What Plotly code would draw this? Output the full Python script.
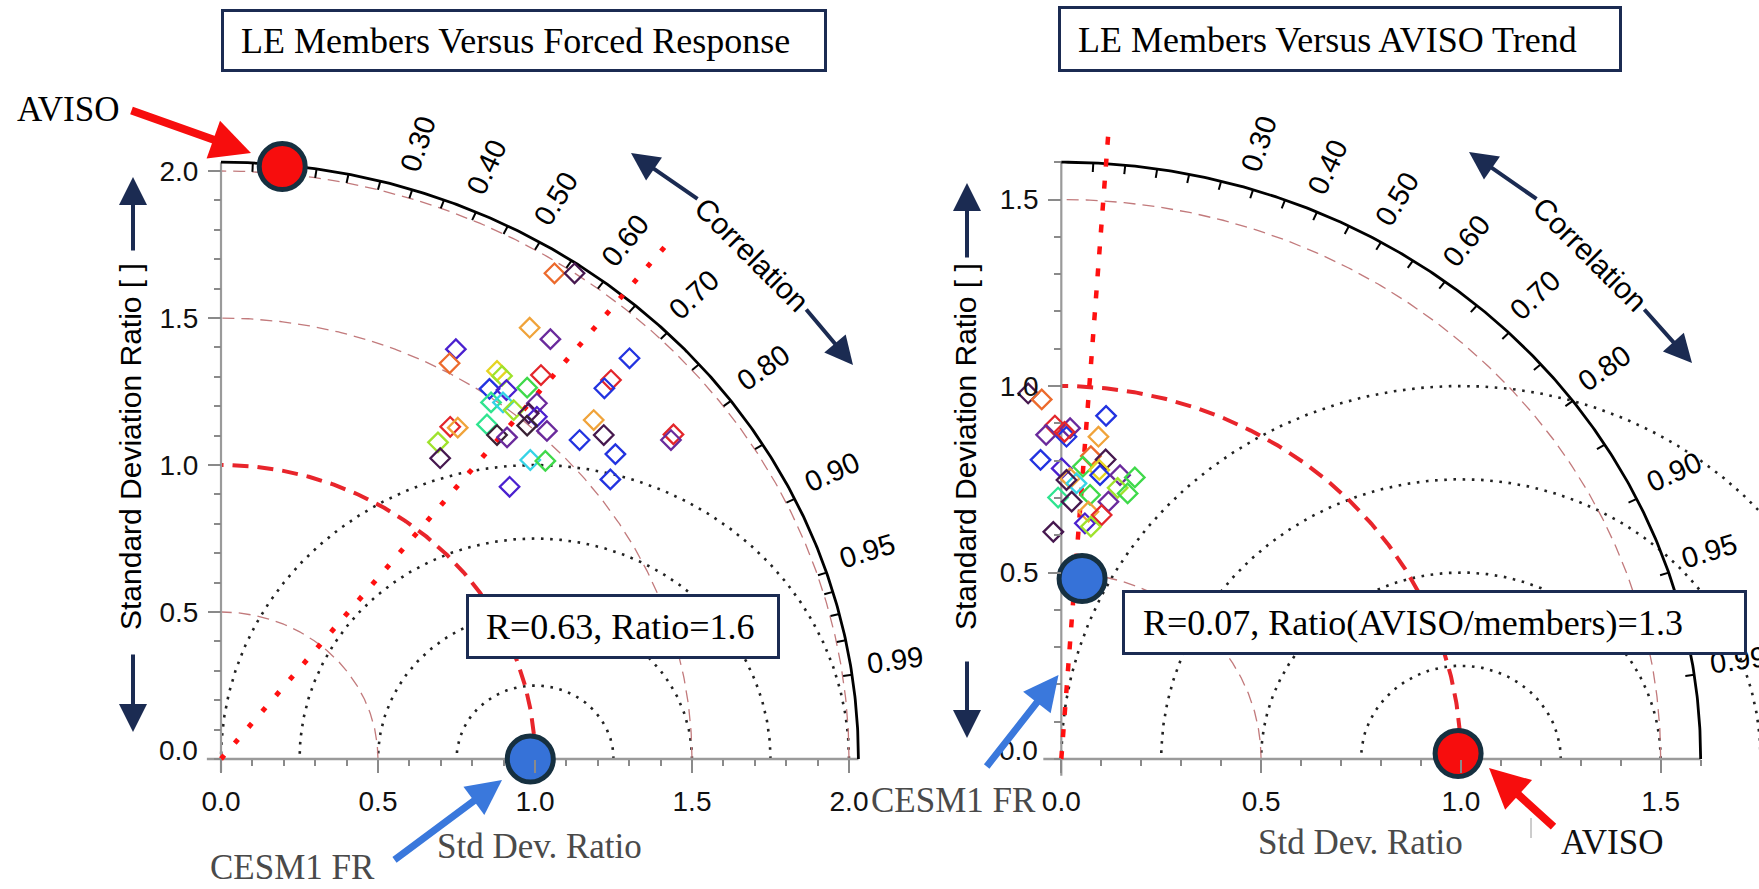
import numpy as np
import plotly.graph_objects as go

W, H = 1759, 889

# ---------------- data ----------------
# Left panel: LE members versus forced response (x = SD*R, y = SD*sqrt(1-R^2))
left_x = [1.062, 1.126, 0.983, 1.049, 0.748, 0.728, 1.301, 0.879, 0.895, 1.019,
          1.242, 1.221, 0.855, 0.909, 0.975, 0.860, 0.898, 0.932, 1.006, 0.980,
          1.006, 0.975, 1.038, 1.187, 0.730, 0.754, 0.847, 0.879, 0.911, 1.219,
          1.142, 1.441, 1.433, 0.691, 0.698, 1.256, 0.985, 1.033, 1.240, 0.919]
left_y = [1.652, 1.652, 1.467, 1.428, 1.394, 1.346, 1.363, 1.320, 1.303, 1.306,
          1.289, 1.261, 1.259, 1.255, 1.263, 1.213, 1.213, 1.187, 1.210, 1.176,
          1.164, 1.134, 1.116, 1.153, 1.130, 1.127, 1.138, 1.102, 1.094, 1.102,
          1.085, 1.104, 1.085, 1.077, 1.023, 1.037, 1.017, 1.014, 0.951, 0.926]
left_c = ["orangered", "darkpurple", "orange", "purple", "indigo", "orangered", "blue", "yellow", "yellowgreen", "red",
          "red", "blue", "blue", "indigo", "green", "teal", "cyan", "yellowgreen", "purple", "darkpurple",
          "indigo", "dark", "purple", "orange", "red", "orange", "teal", "dark", "purple", "darkpurple",
          "blue", "red", "purple", "yellowgreen", "darkpurple", "blue", "cyan", "green", "blue", "indigo"]

# Right panel: LE members versus AVISO trend
right_x = [-0.083, -0.049, 0.112, -0.016, 0.022, -0.038, 0.013, 0.008, 0.093, -0.052,
           0.074, 0.111, 0.054, 0.001, 0.095, 0.097, 0.022, 0.038, 0.013, 0.147,
           0.184, 0.141, 0.166, 0.072, -0.008, 0.026, 0.118, 0.068, 0.101, 0.059,
           0.074, -0.020]
right_y = [0.980, 0.964, 0.920, 0.894, 0.887, 0.869, 0.864, 0.877, 0.864, 0.802,
           0.812, 0.803, 0.784, 0.779, 0.775, 0.761, 0.753, 0.739, 0.748, 0.761,
           0.755, 0.727, 0.712, 0.708, 0.701, 0.690, 0.690, 0.663, 0.654, 0.632,
           0.623, 0.609]
right_c = ["darkpurple", "orangered", "blue", "red", "purple", "purple", "blue", "red", "orange", "blue",
           "orangered", "darkpurple", "green", "indigo", "yellow", "blue", "orange", "cyan", "darkpurple", "purple",
           "green", "yellowgreen", "green", "green", "teal", "darkpurple", "purple", "orange", "red", "indigo",
           "yellowgreen", "darkpurple"]

member_palette = {
    "red": "#e3262b", "orangered": "#ec6a2c", "orange": "#f0a33a", "yellow": "#e5d523",
    "yellowgreen": "#9fe22c", "green": "#3fd94a", "teal": "#2fe48f", "cyan": "#35d3e6",
    "blue": "#2233e0", "indigo": "#4a20cf", "purple": "#6a2a9c", "darkpurple": "#46184f",
    "dark": "#3a2235",
}

# reference points (x, y in std-ratio units)
left_aviso_x, left_aviso_y = [0.195], [2.015]
left_fr_x, left_fr_y = [0.985], [0.0]
right_fr_x, right_fr_y = [0.052], [0.484]
right_aviso_x, right_aviso_y = [0.993], [0.015]

left_R, left_ratio = 0.63, 1.6
right_R, right_ratio = 0.07, 1.3
left_corr_len, right_corr_len = 2.28, 1.68

left_rmax, right_rmax = 2.03, 1.6
left_std_circles = [0.5, 1.5, 2.0]
right_std_circles = [0.5, 1.5]
ref_std = 1.0
rms_circles = [0.25, 0.5, 0.75, 1.0]

corr_ticks = [0.05, 0.10, 0.15, 0.20, 0.25, 0.30, 0.35, 0.40, 0.45, 0.50, 0.55,
              0.60, 0.65, 0.70, 0.75, 0.80, 0.85, 0.90, 0.95, 0.96, 0.97, 0.98, 0.99]
corr_labels = [0.30, 0.40, 0.50, 0.60, 0.70, 0.80, 0.90, 0.95, 0.99]

left_major = [0.0, 0.5, 1.0, 1.5, 2.0]
right_major = [0.0, 0.5, 1.0, 1.5]
left_minor = [round(0.1 * k, 1) for k in range(0, 21)]
right_minor = [round(0.1 * k, 1) for k in range(0, 17)]

# ---------------- styling ----------------
NAVY = "#1b2b52"
SANS = "Liberation Sans, Arial, sans-serif"
SERIF = "Liberation Serif, Times New Roman, serif"
GRAYTXT = "#4a4a4a"

PANELS = {
    "left": dict(ox=221.0, oy=759.0, sx=314.0, sy=294.0, dom=(0.0, 0.56), xa="x", ya="y", n="",
                 rmax=left_rmax, std=left_std_circles, major=left_major, minor=left_minor,
                 R=left_R, L=left_corr_len, mx=left_x, my=left_y, mc=left_c,
                 corr_dash=("5px,16px", 5)),
    "right": dict(ox=1061.3, oy=759.0, sx=399.6, sy=373.0, dom=(0.5, 1.0), xa="x2", ya="y2", n="2",
                  rmax=right_rmax, std=right_std_circles, major=right_major, minor=right_minor,
                  R=right_R, L=right_corr_len, mx=right_x, my=right_y, mc=right_c,
                  corr_dash=("8px,14px", 4.5)),
}

fig = go.Figure()
annotations = []
layout_axes = {}


def arc(r, cx=0.0, t0=0.0, t1=np.pi / 2, n=300):
    t = np.linspace(t0, t1, n)
    return cx + r * np.cos(t), r * np.sin(t)


for key, p in PANELS.items():
    xa, ya = p["xa"], p["ya"]
    rmax = p["rmax"]
    sx, sy = p["sx"], p["sy"]

    def line(x, y, color, width, dash="solid"):
        fig.add_trace(go.Scatter(x=list(x), y=list(y), mode="lines", xaxis=xa, yaxis=ya,
                                 line=dict(color=color, width=width, dash=dash),
                                 hoverinfo="skip", showlegend=False))

    # RMS-difference arcs (black dotted) centred on the reference
    for r in rms_circles:
        x, y = arc(r, cx=ref_std, t0=0, t1=np.pi)
        line(x, y, "#222222", 2.6, "2.6px,6.6px")
    # std-ratio circles (thin brown dashed)
    for r in p["std"]:
        x, y = arc(r)
        line(x, y, "#c27a7c", 1.3, "12px,7px")
    # reference std circle (thick red dashed)
    x, y = arc(ref_std)
    line(x, y, "#e8252b", 4, "16px,9px")
    # axes lines
    line([-0.045, rmax], [0, 0], "#9a9a9a", 2.6)
    line([0, 0], [-0.045, rmax], "#9a9a9a", 2.2)
    # outer correlation arc
    x, y = arc(rmax)
    line(x, y, "#000000", 2.8)
    # inward ticks on correlation arc
    tx, ty = [], []
    for c in corr_ticks:
        th = np.arccos(c)
        xo, yo = rmax * np.cos(th), rmax * np.sin(th)
        thv = np.arctan2(np.sin(th) * sy, np.cos(th) * sx)
        tx += [xo, xo - 9 * np.cos(thv) / sx, None]
        ty += [yo, yo - 9 * np.sin(thv) / sy, None]
    line(tx, ty, "#000000", 2)
    # correlation line (red dotted)
    th = np.arccos(p["R"])
    dash, wid = p["corr_dash"]
    line([0, p["L"] * np.cos(th)], [0, p["L"] * np.sin(th)], "#ff1010", wid, dash)
    # members
    fig.add_trace(go.Scatter(x=p["mx"], y=p["my"], mode="markers", xaxis=xa, yaxis=ya,
                             marker=dict(symbol="diamond-open", size=15,
                                         color=[member_palette[c] for c in p["mc"]],
                                         line=dict(width=2.3)),
                             hoverinfo="skip", showlegend=False))

    # correlation labels (baseline along the radial direction)
    for c in corr_labels:
        th = np.arccos(c)
        xo, yo = rmax * np.cos(th), rmax * np.sin(th)
        thv = np.arctan2(np.sin(th) * sy, np.cos(th) * sx)
        d, q = 45, 9
        annotations.append(dict(
            x=xo, y=yo, xref=xa, yref=ya, showarrow=False, text=f"{c:.2f}",
            xshift=d * np.cos(thv) - q * np.sin(thv), yshift=d * np.sin(thv) + q * np.cos(thv),
            textangle=-np.degrees(thv), xanchor="center", yanchor="middle",
            font=dict(size=29, family=SANS, color="#000")))

    # the y "0.0" label sits slightly above its tick in the original
    annotations.append(dict(
        x=0, y=0, xref=xa, yref=ya, showarrow=False, text=f"{p['major'][0]:.1f}",
        xanchor="right", yanchor="middle", xshift=-21, yshift=9,
        font=dict(size=28, family=SANS, color="#111")))

    # axes definitions
    d0, d1 = p["dom"]
    xr = [(d0 * W - p["ox"]) / sx, (d1 * W - p["ox"]) / sx]
    yr = [-(H - p["oy"]) / sy, p["oy"] / sy]
    common = dict(showgrid=False, zeroline=False, showline=False, ticks="outside",
                  tickcolor="#8a8a8a", tickwidth=1.6, ticklen=13, anchor="free",
                  tickfont=dict(size=28, family=SANS, color="#111"))
    layout_axes["xaxis" + p["n"]] = dict(
        domain=list(p["dom"]), range=xr, position=1 - p["oy"] / H,
        tickmode="array", tickvals=p["major"], ticktext=[f"{v:.1f}" for v in p["major"]],
        ticklabelstandoff=4,
        minor=dict(tickmode="array", tickvals=p["minor"], ticks="outside", ticklen=6,
                   tickcolor="#8a8a8a", tickwidth=1.6),
        **common)
    layout_axes["yaxis" + p["n"]] = dict(
        domain=[0, 1], range=yr, position=p["ox"] / W,
        tickmode="array", tickvals=p["major"],
        ticktext=["" if v == 0 else f"{v:.1f}" for v in p["major"]],
        ticklabelstandoff=4,
        minor=dict(tickmode="array", tickvals=p["minor"], ticks="outside", ticklen=7,
                   tickcolor="#8a8a8a", tickwidth=1.6),
        **common)


# big reference circles
def big(xa, ya, x, y, color):
    fig.add_trace(go.Scatter(x=x, y=y, mode="markers", xaxis=xa, yaxis=ya, cliponaxis=False,
                             marker=dict(size=46, color=color, line=dict(color="#163040", width=5)),
                             hoverinfo="skip", showlegend=False))


big("x", "y", left_aviso_x, left_aviso_y, "#f70d0d")
big("x", "y", left_fr_x, left_fr_y, "#3672d8")
big("x2", "y2", right_fr_x, right_fr_y, "#3672d8")
big("x2", "y2", right_aviso_x, right_aviso_y, "#f70d0d")


# ---------------- decorations (pixel-placed) ----------------
def paper(px, py):
    return px / W, 1 - py / H


def add_text(px, py, text, size, family, color="#000", angle=0, xanchor="center", yanchor="middle"):
    x, y = paper(px, py)
    annotations.append(dict(x=x, y=y, xref="paper", yref="paper", text=text, showarrow=False,
                            font=dict(size=size, family=family, color=color), textangle=angle,
                            xanchor=xanchor, yanchor=yanchor))


def add_box(x0, y0, x1, y1):
    cx, cy = paper((x0 + x1) / 2, (y0 + y1) / 2)
    annotations.append(dict(x=cx, y=cy, xref="paper", yref="paper", text="\u00a0", showarrow=False,
                            width=x1 - x0 - 6, height=y1 - y0 - 6, borderwidth=3, borderpad=0,
                            bordercolor=NAVY, bgcolor="white", font=dict(size=2),
                            xanchor="center", yanchor="middle"))


def add_arrow(tip, tail, color, width, size=1.0):
    x, y = paper(*tip)
    annotations.append(dict(x=x, y=y, xref="paper", yref="paper", text="", showarrow=True,
                            ax=tail[0] - tip[0], ay=tail[1] - tip[1], axref="pixel", ayref="pixel",
                            arrowhead=2, arrowsize=size, arrowwidth=width, arrowcolor=color,
                            standoff=0, startstandoff=0))


# title boxes
add_box(221, 9, 827, 72)
add_text(238.5, 41, "LE Members Versus Forced Response", 36, SERIF, xanchor="left")
add_box(1058, 6, 1622, 72)
add_text(1076, 40, "LE Members Versus AVISO Trend", 36, SERIF, xanchor="left")

# statistic boxes
add_box(466, 594, 780, 659)
add_text(483.5, 627, f"R={left_R:.2f}, Ratio={left_ratio:.1f}", 36, SERIF, xanchor="left")
add_box(1122, 590, 1747, 655)
add_text(1141, 623, f"R={right_R:.2f}, Ratio(AVISO/members)={right_ratio:.1f}", 36, SERIF, xanchor="left")

# labels
add_text(67.5, 110, "AVISO", 35, SERIF, "#000")
add_text(292, 889, "CESM1 FR", 35, SERIF, GRAYTXT, yanchor="bottom")
add_text(539, 846, "Std Dev. Ratio", 35, SERIF, GRAYTXT)
add_text(953.5, 800, "CESM1 FR", 35, SERIF, GRAYTXT)
add_text(1360, 842, "Std Dev. Ratio", 35, SERIF, GRAYTXT)
add_text(1612, 842, "AVISO", 35, SERIF, "#111")

add_text(130, 447, "Standard Deviation Ratio [ ]", 30, SANS, "#000", angle=-90)
add_text(965, 447, "Standard Deviation Ratio [ ]", 30, SANS, "#000", angle=-90)
add_text(752, 254, "Correlation", 30, SANS, "#000", angle=45)
add_text(1590.5, 254, "Correlation", 30, SANS, "#000", angle=45)

# arrows
add_arrow((251, 153), (130, 110), "#f70d0d", 8)
add_arrow((502, 780), (393, 861), "#3a78dc", 7)
add_arrow((1058.5, 675), (985.5, 768), "#3a78dc", 7)
add_arrow((1489, 768), (1555, 828), "#f70d0d", 8)

add_arrow((133, 177), (133, 252), NAVY, 4, 1.4)
add_arrow((133, 732), (133, 653), NAVY, 4, 1.4)
add_arrow((967, 183), (967, 259), NAVY, 4, 1.4)
add_arrow((967, 738), (967, 660), NAVY, 4, 1.4)

add_arrow((631, 153), (699, 200), NAVY, 4, 1.4)
add_arrow((853, 365), (805, 308), NAVY, 4, 1.4)
add_arrow((1469, 152), (1538, 200), NAVY, 4, 1.4)
add_arrow((1692, 363), (1643, 308), NAVY, 4, 1.4)

shapes = [dict(type="line", xref="paper", yref="paper",
               x0=1531 / W, x1=1531 / W, y0=1 - 818 / H, y1=1 - 838 / H,
               line=dict(color="#9a9a9a", width=1))]

fig.update_layout(
    width=W, height=H, autosize=False,
    margin=dict(l=0, r=0, t=0, b=0, pad=0),
    paper_bgcolor="white", plot_bgcolor="rgba(0,0,0,0)",
    showlegend=False, annotations=annotations, shapes=shapes,
    **layout_axes,
)

fig.write_html("out.html")
